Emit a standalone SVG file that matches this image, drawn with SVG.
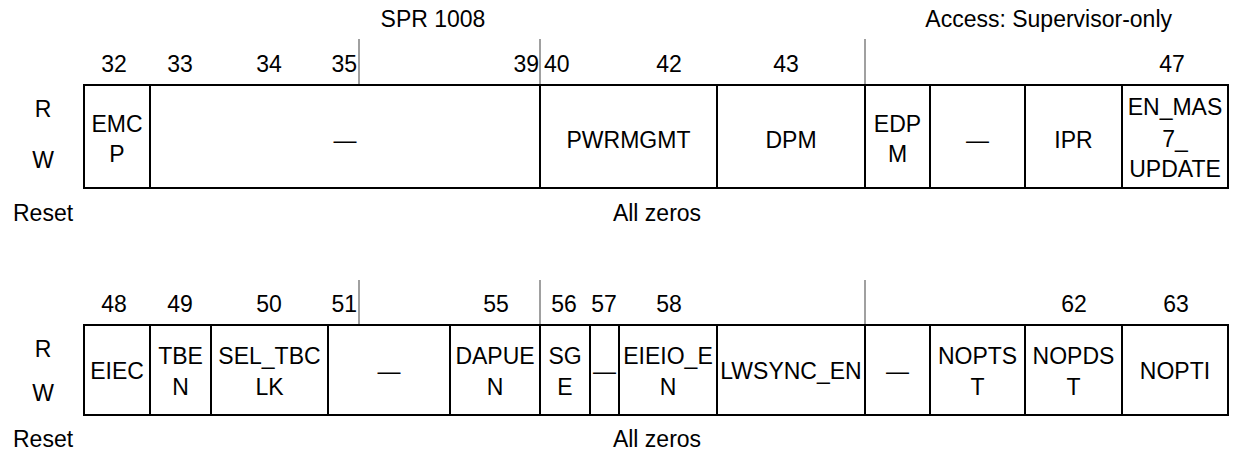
<svg xmlns="http://www.w3.org/2000/svg" width="1233" height="452" viewBox="0 0 1233 452">
<style>
text { font-family: "Liberation Sans", Arial, sans-serif; font-size: 23px; fill: #000; }
.c { text-anchor: middle; }
.s { text-anchor: start; }
.e { text-anchor: end; }
.f { fill: #fff; stroke: #000; stroke-width: 2; }
.tick { stroke: #808080; stroke-width: 1.5; }
</style>
<rect width="1233" height="452" fill="#fff"/>
<g id="header">
<text class="c" x="433" y="27">SPR 1008</text>
<text class="e" x="1172" y="27">Access: Supervisor-only</text>
</g>
<g id="ticks">
<line class="tick" x1="359" y1="39" x2="359" y2="85"/>
<line class="tick" x1="540" y1="39" x2="540" y2="85"/>
<line class="tick" x1="865" y1="39" x2="865" y2="85"/>
<line class="tick" x1="359" y1="280" x2="359" y2="325"/>
<line class="tick" x1="540" y1="280" x2="540" y2="325"/>
<line class="tick" x1="865" y1="280" x2="865" y2="325"/>
</g>
<g id="bits-row1">
<text class="c" x="114" y="72">32</text>
<text class="c" x="180" y="72">33</text>
<text class="c" x="269" y="72">34</text>
<text class="e" x="357" y="72">35</text>
<text class="e" x="539" y="72">39</text>
<text class="s" x="544" y="72">40</text>
<text class="c" x="669" y="72">42</text>
<text class="c" x="786" y="72">43</text>
<text class="c" x="1172" y="72">47</text>
</g>
<g id="labels-row1">
<text class="c" x="43" y="117">R</text>
<text class="c" x="43" y="168">W</text>
<text class="s" x="13" y="221">Reset</text>
<text class="c" x="657" y="221">All zeros</text>
</g>
<g id="f-EMCP"><rect class="f" x="84" y="85" width="66" height="103"/><text class="c" x="117" y="132">EMC</text><text class="c" x="117" y="162">P</text></g>
<g id="f-r1-res1"><rect class="f" x="150" y="85" width="390" height="103"/><text class="c" x="345" y="148">—</text></g>
<g id="f-PWRMGMT"><rect class="f" x="540" y="85" width="177" height="103"/><text class="c" x="628.5" y="148">PWRMGMT</text></g>
<g id="f-DPM"><rect class="f" x="717" y="85" width="148" height="103"/><text class="c" x="791" y="148">DPM</text></g>
<g id="f-EDPM"><rect class="f" x="865" y="85" width="65" height="103"/><text class="c" x="897.5" y="132">EDP</text><text class="c" x="897.5" y="162">M</text></g>
<g id="f-r1-res2"><rect class="f" x="930" y="85" width="95" height="103"/><text class="c" x="977.5" y="148">—</text></g>
<g id="f-IPR"><rect class="f" x="1025" y="85" width="97" height="103"/><text class="c" x="1073.5" y="148">IPR</text></g>
<g id="f-EN_MAS7_UPDATE"><rect class="f" x="1122" y="85" width="106" height="103"/><text class="c" x="1175" y="115">EN_MAS</text><text class="c" x="1175" y="147">7_</text><text class="c" x="1175" y="177">UPDATE</text></g>
<g id="bits-row2">
<text class="c" x="114" y="312">48</text>
<text class="c" x="180" y="312">49</text>
<text class="c" x="269" y="312">50</text>
<text class="e" x="357" y="312">51</text>
<text class="c" x="496" y="312">55</text>
<text class="c" x="564" y="312">56</text>
<text class="c" x="604" y="312">57</text>
<text class="c" x="669" y="312">58</text>
<text class="c" x="1074" y="312">62</text>
<text class="c" x="1176" y="312">63</text>
</g>
<g id="labels-row2">
<text class="c" x="43" y="357">R</text>
<text class="c" x="43" y="401">W</text>
<text class="s" x="13" y="447">Reset</text>
<text class="c" x="657" y="447">All zeros</text>
</g>
<g id="f-EIEC"><rect class="f" x="84" y="325" width="66" height="90"/><text class="c" x="117" y="379">EIEC</text></g>
<g id="f-TBEN"><rect class="f" x="150" y="325" width="61" height="90"/><text class="c" x="180.5" y="364">TBE</text><text class="c" x="180.5" y="395">N</text></g>
<g id="f-SEL_TBCLK"><rect class="f" x="211" y="325" width="117" height="90"/><text class="c" x="269.5" y="364">SEL_TBC</text><text class="c" x="269.5" y="395">LK</text></g>
<g id="f-r2-res1"><rect class="f" x="328" y="325" width="122" height="90"/><text class="c" x="389" y="379">—</text></g>
<g id="f-DAPUEN"><rect class="f" x="450" y="325" width="90" height="90"/><text class="c" x="495" y="364">DAPUE</text><text class="c" x="495" y="395">N</text></g>
<g id="f-SGE"><rect class="f" x="540" y="325" width="50" height="90"/><text class="c" x="565" y="364">SG</text><text class="c" x="565" y="395">E</text></g>
<g id="f-r2-res2"><rect class="f" x="590" y="325" width="29" height="90"/><text class="c" x="604.5" y="379">—</text></g>
<g id="f-EIEIO_EN"><rect class="f" x="619" y="325" width="98" height="90"/><text class="c" x="668" y="364">EIEIO_E</text><text class="c" x="668" y="395">N</text></g>
<g id="f-LWSYNC_EN"><rect class="f" x="717" y="325" width="148" height="90"/><text class="c" x="791" y="379">LWSYNC_EN</text></g>
<g id="f-r2-res3"><rect class="f" x="865" y="325" width="65" height="90"/><text class="c" x="897.5" y="379">—</text></g>
<g id="f-NOPTST"><rect class="f" x="930" y="325" width="95" height="90"/><text class="c" x="977.5" y="364">NOPTS</text><text class="c" x="977.5" y="395">T</text></g>
<g id="f-NOPDST"><rect class="f" x="1025" y="325" width="97" height="90"/><text class="c" x="1073.5" y="364">NOPDS</text><text class="c" x="1073.5" y="395">T</text></g>
<g id="f-NOPTI"><rect class="f" x="1122" y="325" width="106" height="90"/><text class="c" x="1175" y="379">NOPTI</text></g>
</svg>
